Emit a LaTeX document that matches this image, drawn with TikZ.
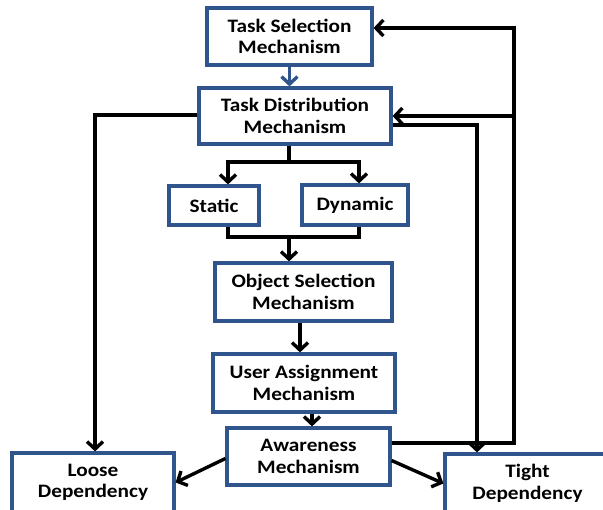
\documentclass[tikz,border=0pt]{standalone}
\usepackage{fontspec}
\usetikzlibrary{arrows.meta}
\newfontfamily\boxfont{Carlito}[FakeStretch=1.12]
\definecolor{boxblue}{RGB}{47,85,140}
\tikzset{
  box/.style={draw=boxblue, line width=3.2pt, fill=white, align=center, inner sep=0pt,
    font=\boxfont\bfseries\fontsize{19}{21.5}\selectfont, text=black},
  conn/.style={line width=3.4pt, -{Straight Barb[length=7.5pt,width=16pt]}},
  plain/.style={line width=3.4pt}
}
\begin{document}
\begin{tikzpicture}[x=1pt,y=-1pt]
\useasboundingbox (0,0) rectangle (603,510);
% nodes
\node[box, minimum width=165pt, minimum height=57pt] (TS) at (289.5,36.5) {Task Selection\\Mechanism};
\node[box, minimum width=192pt, minimum height=56pt] (TD) at (295,116) {Task Distribution\\Mechanism};
\node[box, minimum width=90pt, minimum height=39pt] (ST) at (214,205.5) {Static};
\node[box, minimum width=106pt, minimum height=40pt] (DY) at (355,205) {Dynamic};
\node[box, minimum width=177pt, minimum height=58pt] (OS) at (303.5,292) {Object Selection\\Mechanism};
\node[box, minimum width=182pt, minimum height=58pt] (UA) at (304,383) {User Assignment\\Mechanism};
\node[box, minimum width=163pt, minimum height=57pt] (AW) at (308.5,456.5) {Awareness\\Mechanism};
\node[box, minimum width=162pt, minimum height=59pt] (LD) at (93,482.5) {Loose\\Dependency};
\node[box, minimum width=165pt, minimum height=59pt] (TT) at (527.5,483.5) {Tight\\Dependency};
% helper coordinates
\coordinate (sp) at (289,162);
\coordinate (spL) at (228,162);
\coordinate (spR) at (359,162);
\coordinate (mg) at (289,237);
\coordinate (c1) at (300,0);
\coordinate (c2) at (312,0);
\coordinate (lx) at (95,115);
\coordinate (rx) at (514,443);
\coordinate (ty) at (514,28);
\coordinate (tdy) at (514,116);
\coordinate (tx) at (477,125);
% connectors
\draw[conn, draw=boxblue] (TS.south) -- (TS.south |- TD.north);
\draw[plain] (TD.south -| sp) -- (sp);
\draw[conn] (sp) -- (spL) -- (spL |- ST.north);
\draw[conn] (sp) -- (spR) -- (spR |- DY.north);
\draw[plain] (spL |- ST.south) -- (spL |- mg) -- (spR |- mg) -- (spR |- DY.south);
\draw[conn] (mg) -- (mg |- OS.north);
\draw[conn] (OS.south -| c1) -- (UA.north -| c1);
\draw[conn] (UA.south -| c2) -- (AW.north -| c2);
\draw[conn] (TD.west |- lx) -- (lx) -- (lx |- LD.north);
\draw[conn] (AW.east |- rx) -- (rx) -- (ty) -- (TS.east |- ty);
\draw[conn] (tdy) -- (TD.east |- tdy);
\draw[conn] (TD.east |- tx) -- (tx) -- (tx |- TT.north);
\draw[conn] ([yshift=-2pt]AW.west) -- (LD.east);
\draw[conn] ([yshift=-4pt]AW.east) -- (TT.west);
\end{tikzpicture}
\end{document}
